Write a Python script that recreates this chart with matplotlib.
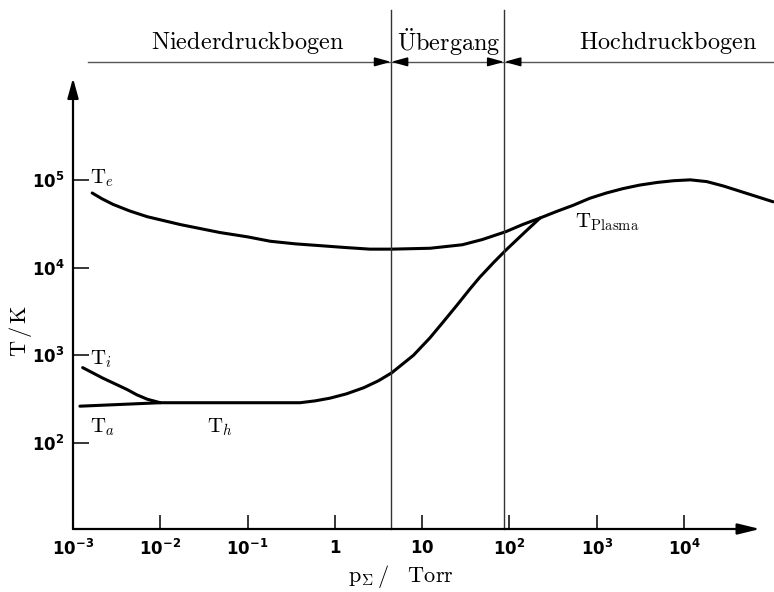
import numpy as np
import matplotlib.pyplot as plt

plt.rcParams['mathtext.fontset'] = 'cm'

# pressure p / Torr and temperatures T / K
te_p = [0.00166, 0.00214, 0.00288, 0.00447, 0.00708, 0.0170, 0.0479, 0.100, 0.182, 0.355,
        0.676, 1.26, 2.51, 4.47, 12.3, 28.8, 49.0, 91.2, 141, 224,
        347, 537, 832, 1288, 1995, 3090, 4898, 7586, 11750, 18200,
        28180, 43650, 67610, 104700]
te_T = [70800, 60950, 52480, 44160, 38020, 30900, 25120, 22390, 19950, 18620,
        17780, 16980, 16220, 16220, 16600, 18200, 20890, 25700, 30900, 36730,
        43650, 51290, 61660, 70800, 79430, 87100, 93330, 97720, 100000, 95500,
        85110, 74130, 64570, 56230]

# gas / heavy particle temperature, runs into T_Plasma at high pressure
th_p = [0.00120, 0.0100, 0.107, 0.398, 0.589, 0.871, 1.35, 2.14, 3.16, 4.47,
        7.94, 12.3, 17.4, 24.5, 35.5, 45.7, 66.1, 91.2, 145, 224]
th_T = [263, 288, 288, 288, 302, 324, 363, 427, 513, 631,
        1000, 1585, 2399, 3631, 5754, 7762, 11480, 15850, 24550, 36730]

ti_p = [0.00129, 0.00219, 0.00417, 0.00537, 0.00708, 0.0100]
ti_T = [724, 550, 407, 355, 316, 288]

# region boundaries (Torr) and names
bounds = [4.4, 87]
regions = [r'$\mathrm{Niederdruckbogen}$', r'$\ddot{\mathrm{U}}\mathrm{bergang}$',
           r'$\mathrm{Hochdruckbogen}$']
region_x = [0.1, 20, 6600]

xticks = [1e-3, 1e-2, 1e-1, 1, 10, 1e2, 1e3, 1e4]
xlabels = [r'$\mathbf{10^{-3}}$', r'$\mathbf{10^{-2}}$', r'$\mathbf{10^{-1}}$', r'$\mathbf{1}$',
           r'$\mathbf{10}$', r'$\mathbf{10^{2}}$', r'$\mathbf{10^{3}}$', r'$\mathbf{10^{4}}$']
yticks = [1e2, 1e3, 1e4, 1e5]
ylabels = [r'$\mathbf{10^{2}}$', r'$\mathbf{10^{3}}$', r'$\mathbf{10^{4}}$', r'$\mathbf{10^{5}}$']

fig = plt.figure(figsize=(7.74, 5.92), dpi=100)
ax = fig.add_axes([73/774, 63/592, 701/774, 529/592])
ax.set_xscale('log')
ax.set_yscale('log')
x0, x1 = 1e-3, 10**5.03
y0, y1 = 10**1.02, 10**7.05
ax.set_xlim(x0, x1)
ax.set_ylim(y0, y1)
for s in ax.spines.values():
    s.set_visible(False)
ax.patch.set_visible(False)

# axes with arrow heads
ax.annotate('', xy=(x0, 10**6.16), xytext=(x0, y0), annotation_clip=False,
            arrowprops=dict(arrowstyle='-|>,head_length=0.8,head_width=0.22',
                            lw=1.6, color='black', mutation_scale=15, shrinkA=0, shrinkB=0))
ax.annotate('', xy=(10**4.87, y0), xytext=(x0, y0), annotation_clip=False,
            arrowprops=dict(arrowstyle='-|>,head_length=0.9,head_width=0.22',
                            lw=1.6, color='black', mutation_scale=15, shrinkA=0, shrinkB=0))

ax.set_xticks(xticks, xlabels)
ax.set_yticks(yticks, ylabels)
ax.minorticks_off()
ax.tick_params(axis='x', direction='in', length=10, width=1.1, pad=7, labelsize=12)
ax.tick_params(axis='y', direction='in', length=11.5, width=1.1, pad=6, labelsize=12)
for t in ax.get_xticklabels() + ax.get_yticklabels():
    t.set_math_fontfamily('dejavusans')

# curves
for px, ty in [(te_p, te_T), (th_p, th_T), (ti_p, ti_T)]:
    ax.plot(px, ty, color='black', lw=2.2, solid_capstyle='round', solid_joinstyle='round')

# region boundaries with dimension line on top
yh = 10**6.345
for b in bounds:
    ax.plot([b, b], [y0, 10**6.94], color='#333333', lw=1.0, clip_on=False)
    for side in (1/1.41, 1.41):
        ax.annotate('', xy=(b, yh), xytext=(b*side, yh), annotation_clip=False,
                    arrowprops=dict(arrowstyle='-|>,head_length=0.8,head_width=0.22',
                                    lw=1.2, color='black', mutation_scale=12,
                                    shrinkA=0, shrinkB=0))
ax.plot([10**-2.83, x1], [yh, yh], color='#555555', lw=1.0, clip_on=False)

for name, xr in zip(regions, region_x):
    ax.text(xr, 10**6.57, name, ha='center', va='center', fontsize=17.5)

# curve labels
ax.text(10**-2.81, 10**4.955, r'$\mathrm{T}_e$', fontsize=15, ha='left', va='baseline')
ax.text(10**-2.81, 10**2.89, r'$\mathrm{T}_i$', fontsize=15, ha='left', va='baseline')
ax.text(10**-2.81, 10**2.115, r'$\mathrm{T}_a$', fontsize=15, ha='left', va='baseline')
ax.text(10**-1.465, 10**2.115, r'$\mathrm{T}_h$', fontsize=15, ha='left', va='baseline')
ax.text(10**2.75, 10**4.46, r'$\mathrm{T}_{\mathrm{Plasma}}$', fontsize=15, ha='left', va='baseline')

fig.text(21/774, 1 - 331/592, r'$\mathrm{T\,/\,K}$', rotation=90, fontsize=16,
         ha='center', va='center')
fig.text(348/774, 1 - 582/592, r'$\mathrm{p}_\Sigma\,/\quad\mathrm{Torr}$', fontsize=16,
         ha='left', va='baseline')

fig.savefig('out.png', dpi=100)
